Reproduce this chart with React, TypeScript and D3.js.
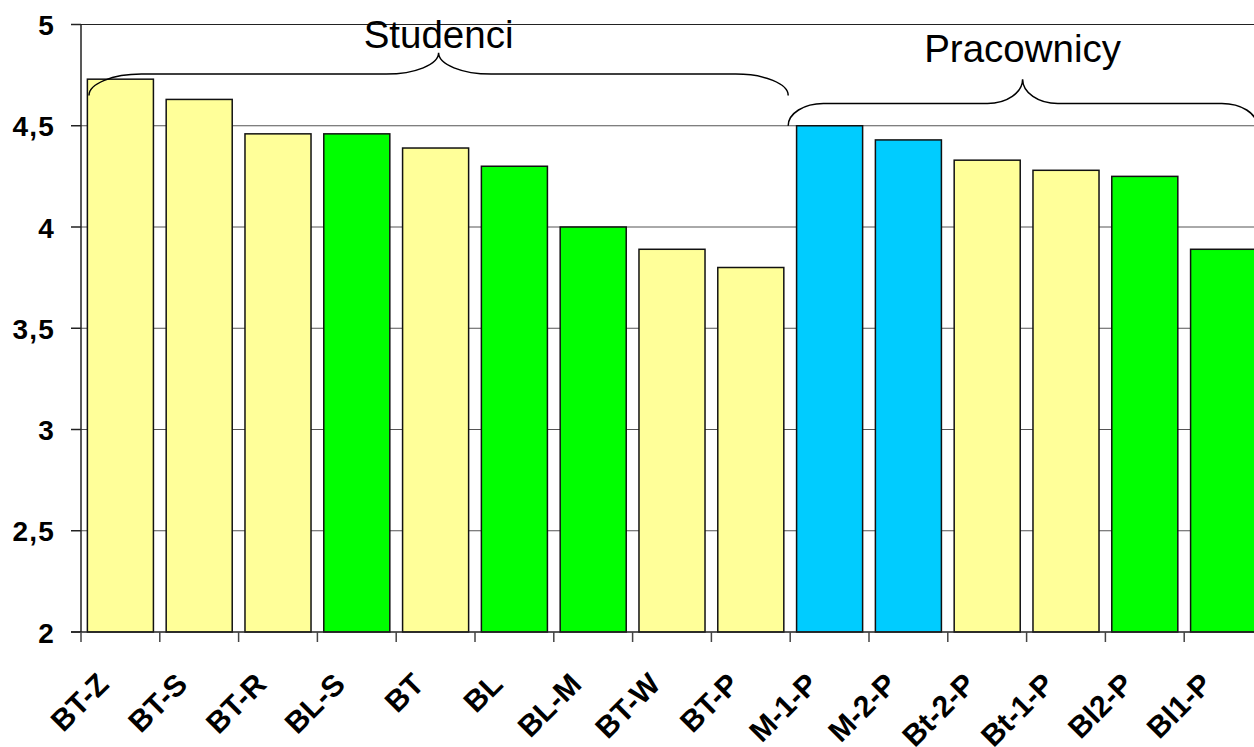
import React from "react";
import * as d3 from "d3";

const categories = ["BT-Z", "BT-S", "BT-R", "BL-S", "BT", "BL", "BL-M", "BT-W", "BT-P", "M-1-P", "M-2-P", "Bt-2-P", "Bt-1-P", "Bl2-P", "Bl1-P"];
const values = [4.73, 4.63, 4.46, 4.46, 4.39, 4.3, 4.0, 3.89, 3.8, 4.5, 4.43, 4.33, 4.28, 4.25, 3.89];
const groups = ["y", "y", "y", "g", "y", "g", "g", "y", "y", "b", "b", "y", "y", "g", "g"];
const yTicks = [2, 2.5, 3, 3.5, 4, 4.5, 5];
const yTickLabels = ["2", "2,5", "3", "3,5", "4", "4,5", "5"];
const braceLabels = ["Studenci", "Pracownicy"];

const colors: Record<string, string> = { y: "#FFFF99", g: "#00FF00", b: "#00CCFF" };

const W = 1254;
const H = 747;
const left = 81;
const right = 1263;
const top = 24.5;
const bottom = 632;
const font = "'Liberation Sans', Arial, sans-serif";

function bracePath(x0: number, x1: number, yE: number, yH: number, yP: number, r: number) {
  const k = 0.552;
  const xm = (x0 + x1) / 2;
  return [
    `M${x0},${yE}`,
    `C${x0},${yE - k * (yE - yH)} ${x0 + r * (1 - k)},${yH} ${x0 + r},${yH}`,
    `L${xm - r},${yH}`,
    `C${xm - r + k * r},${yH} ${xm},${yP + k * (yH - yP)} ${xm},${yP}`,
    `C${xm},${yP + k * (yH - yP)} ${xm + r - k * r},${yH} ${xm + r},${yH}`,
    `L${x1 - r},${yH}`,
    `C${x1 - r + k * r},${yH} ${x1},${yE - k * (yE - yH)} ${x1},${yE}`,
  ].join(" ");
}

export default function App() {
  const xOuter = d3.scaleBand<string>().domain(categories).range([left, right]);
  const x = d3.scaleBand<string>().domain(categories).range([left, right]).paddingInner(0.162).paddingOuter(0.081);
  const y = d3.scaleLinear().domain([2, 5]).range([bottom, top]);
  const step = xOuter.step();
  const tickXs = categories.map((c) => xOuter(c)!).concat([right]);

  const s0 = x("BT-Z")! + 1.6;
  const s1 = xOuter("M-1-P")! - 2;
  const p0 = s1;
  const p1 = right - 6;
  const braces = [
    { x0: s0, x1: s1, yE: y(4.65), yH: y(4.755), yP: y(4.86), ty: y(4.884), label: braceLabels[0] },
    { x0: p0, x1: p1, yE: y(4.5), yH: y(4.61), yP: y(4.73), ty: y(4.815), label: braceLabels[1] },
  ];

  return (
    <svg width={W} height={H} style={{ position: "absolute", left: 0, top: 0, background: "#fff" }}>
      {yTicks.slice(1).map((t) => (
        <line key={t} x1={left} x2={W} y1={y(t)} y2={y(t)} stroke={t === 5 ? "#222" : "#555"} strokeWidth={1} />
      ))}
      {categories.map((c, i) => (
        <rect
          key={c}
          x={x(c)!}
          y={y(values[i])}
          width={x.bandwidth()}
          height={y(2) - y(values[i])}
          fill={colors[groups[i]]}
          stroke="#111"
          strokeWidth={1.5}
        />
      ))}
      <line x1={left} x2={left} y1={top} y2={bottom} stroke="#222" strokeWidth={1.5} />
      <line x1={left - 10} x2={W} y1={bottom} y2={bottom} stroke="#222" strokeWidth={1.5} />
      {yTicks.map((t, i) => (
        <g key={t}>
          <line x1={left - 10} x2={left} y1={y(t)} y2={y(t)} stroke="#222" strokeWidth={1.5} />
          <text x={55} y={y(t) + 10.5} textAnchor="end" fontFamily={font} fontWeight="bold" fontSize={28} letterSpacing={1.2} fill="#000">
            {yTickLabels[i]}
          </text>
        </g>
      ))}
      {tickXs.map((tx, i) => (
        <line key={i} x1={tx} x2={tx} y1={bottom} y2={bottom + 10} stroke="#444" strokeWidth={1.5} />
      ))}
      {categories.map((c) => {
        const cx = xOuter(c)! + step / 2 - 10;
        const cy = 686;
        return (
          <text
            key={c}
            x={cx}
            y={cy}
            transform={`rotate(-45 ${cx} ${cy})`}
            textAnchor="end"
            fontFamily={font}
            fontWeight="bold"
            fontSize={30}
            fill="#000"
          >
            {c}
          </text>
        );
      })}
      {braces.map((b) => (
        <g key={b.label}>
          <path d={bracePath(b.x0, b.x1, b.yE, b.yH, b.yP, (b.x1 - b.x0) * 0.075)} fill="none" stroke="#000" strokeWidth={1.5} />
          <text x={(b.x0 + b.x1) / 2} y={b.ty} textAnchor="middle" fontFamily={font} fontSize={38.5} fill="#000">
            {b.label}
          </text>
        </g>
      ))}
    </svg>
  );
}
